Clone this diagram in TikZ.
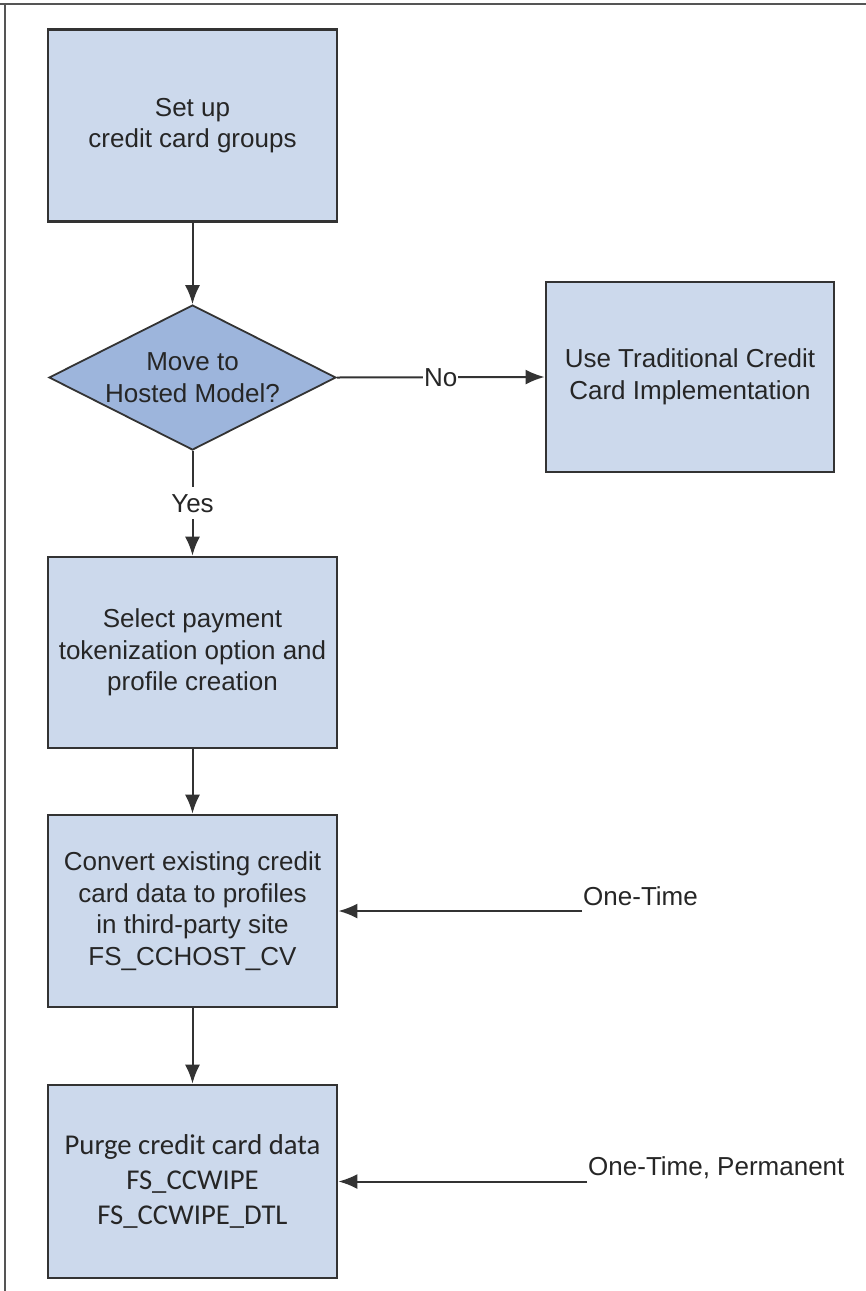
\documentclass[tikz,border=0pt]{standalone}
\usepackage{fontspec}
\setmainfont{Liberation Sans}
\newfontfamily\carlito{Carlito}
\usetikzlibrary{arrows.meta, shapes.geometric, shadows}
\definecolor{cbox}{HTML}{CCD9EC}
\definecolor{cdiam}{HTML}{9DB5DC}
\definecolor{cline}{HTML}{333333}
\definecolor{cframe}{HTML}{555555}
\definecolor{ctext}{HTML}{262626}

\begin{document}
\begin{tikzpicture}[
  x=1pt, y=-1pt,
  stepbox/.style={
    rectangle, draw=cline, fill=cbox, line width=2.8pt,
    minimum width=289pt, minimum height=192pt, inner sep=0pt,
    align=center, text=ctext,
    drop shadow={shadow xshift=1.4pt, shadow yshift=-1.4pt, fill=black!30}
  },
  decision/.style={
    diamond, draw=cline, fill=cdiam, line width=1.8pt, aspect=2,
    minimum width=287pt, minimum height=145pt, inner sep=0pt,
    align=center, text=ctext
  },
  arrowD/.style={-{Latex[length=19pt, width=15pt]}, draw=cline, line width=2pt},
  lbl/.style={text=ctext, fill=white, inner sep=1pt},
  font=\fontsize{26}{31.5}\selectfont
]
\useasboundingbox (0,0) rectangle (866,1291);

% ============================================================
% Page frame (top and left edges only)
\draw[cframe, line width=1.4pt] (0,4) -- (866,4);
\draw[cframe, line width=1.4pt] (5,4) -- (5,1291);

% ============================================================
% Main column of steps
\node[stepbox] (groups) at (192.5, 125.5) {Set up\\credit card groups};
\node[decision] (hosted) at (192.5, 377.5) {Move to\\Hosted Model?};
\node[stepbox, minimum width=288pt, minimum height=190pt] (trad) at (690, 377)
  {Use Traditional Credit\\Card Implementation};
\node[stepbox, minimum height=191pt] (token) at (192.5, 652.5)
  {Select payment\\tokenization option and\\profile creation};
\node[stepbox] (convert) at (192.5, 911)
  {Convert existing credit\\card data to profiles\\in third-party site\\FS\_CCHOST\_CV};
\node[stepbox, minimum height=193pt,
      font=\carlito\fontsize{28.7}{35}\selectfont] (purge) at (192.5, 1181.5)
  {Purge credit card data\\FS\_CCWIPE\\FS\_CCWIPE\_DTL};

% Connectors down the column
\draw[arrowD] (groups) -- (hosted);
\draw[arrowD] (hosted) -- node[lbl, inner sep=7pt] {Yes} (token);
\draw[arrowD] (token) -- (convert);
\draw[arrowD] (convert) -- (purge);

% "No" branch to the right
\draw[arrowD] (hosted.east) -- node[lbl] {No} (trad.west);

% ============================================================
% One-time jobs feeding in from the right
\coordinate (once) at (582, 911);
\coordinate (perm) at (587, 1181.5);
\draw[arrowD] (once) -- (convert.east);
\draw[arrowD] (perm) -- (purge.east);
\node[text=ctext, anchor=base west, inner sep=0pt] (oncelbl) at (583, 905) {One-Time};
\node[text=ctext, anchor=base west, inner sep=0pt] (permlbl) at (588, 1175)
  {One-Time, Permanent};

\end{tikzpicture}
\end{document}
